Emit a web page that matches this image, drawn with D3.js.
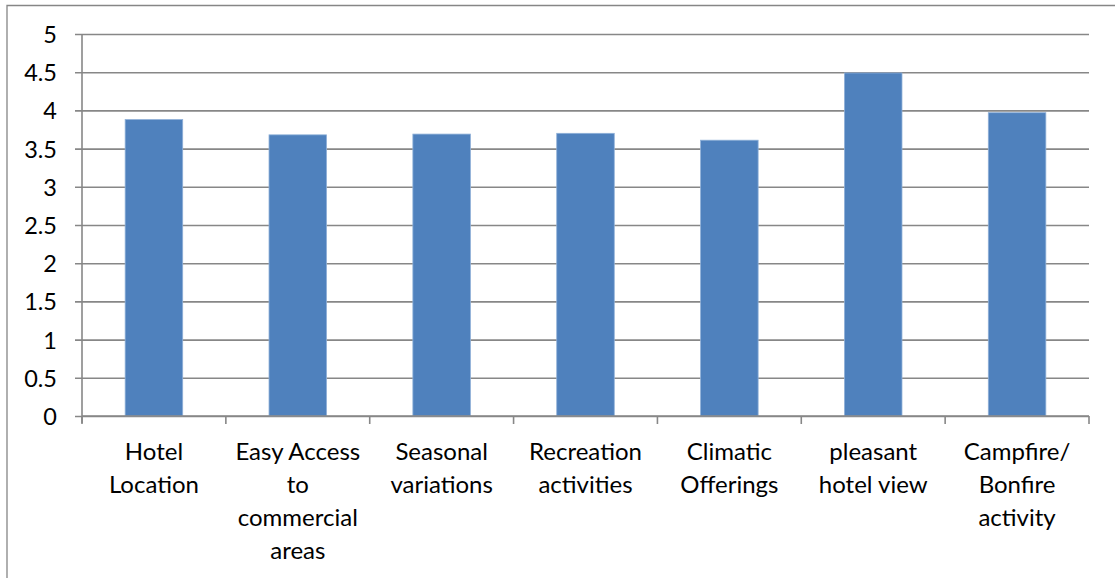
<!DOCTYPE html>
<html>
<head>
<meta charset="utf-8">
<script src="https://cdn.jsdelivr.net/npm/d3@7"></script>
<style>
  html, body { margin: 0; padding: 0; background: #fff; }
  svg { display: block; }
  text { font-family: Lato, "Open Sans", sans-serif; fill: #000; }
</style>
</head>
<body>
<svg id="chart" width="1115" height="578"></svg>
<script>
// Mean ratings per attribute
const categories = [
  "Hotel\nLocation",
  "Easy Access\nto\ncommercial\nareas",
  "Seasonal\nvariations",
  "Recreation\nactivities",
  "Climatic\nOfferings",
  "pleasant\nhotel view",
  "Campfire/\nBonfire\nactivity"
];
const values = [3.88, 3.68, 3.69, 3.70, 3.61, 4.49, 3.97];
const yTicks = [0, 0.5, 1, 1.5, 2, 2.5, 3, 3.5, 4, 4.5, 5];

const svg = d3.select("#chart");
const margin = { left: 82, right: 1089, top: 34, bottom: 416 };

// Outer frame
svg.append("path")
  .attr("d", "M7,590 V5.5 H1120")
  .attr("fill", "none")
  .attr("stroke", "#868686")
  .attr("stroke-width", 1.3);

const x = d3.scaleBand()
  .domain(categories)
  .range([margin.left, margin.right])
  .paddingInner(0.6)
  .paddingOuter(0.3);

const y = d3.scaleLinear()
  .domain([0, 5])
  .range([margin.bottom, margin.top]);

// Horizontal gridlines with outward tick marks
const yAxis = svg.append("g")
  .attr("transform", `translate(${margin.left},0)`)
  .call(d3.axisLeft(y)
    .tickValues(yTicks)
    .tickFormat(d => String(d))
    .tickSizeInner(-(margin.right - margin.left))
    .tickSizeOuter(0)
    .tickPadding(0));
yAxis.select(".domain").remove();
yAxis.selectAll(".tick line")
  .attr("x1", -7)
  .attr("stroke", "#878787")
  .attr("stroke-width", 1.6);
yAxis.selectAll(".tick text")
  .attr("x", -25)
  .attr("dy", "0.36em")
  .style("font-size", "23.5px")
  .attr("fill", "#000");

// Bars
svg.append("g")
  .selectAll("rect")
  .data(values)
  .join("rect")
  .attr("x", (d, i) => x(categories[i]))
  .attr("y", d => y(d))
  .attr("width", x.bandwidth())
  .attr("height", d => y(0) - y(d))
  .attr("fill", "#4F81BD")
  .attr("stroke", "#8fb0d8")
  .attr("stroke-width", 0.8);

// Vertical axis line
svg.append("line")
  .attr("x1", margin.left).attr("x2", margin.left)
  .attr("y1", margin.top).attr("y2", margin.bottom + 7)
  .attr("stroke", "#878787")
  .attr("stroke-width", 1.6);

// Category axis: baseline, boundary ticks, wrapped labels
const xg = svg.append("g");
xg.append("line")
  .attr("x1", margin.left).attr("x2", margin.right)
  .attr("y1", margin.bottom).attr("y2", margin.bottom)
  .attr("stroke", "#878787")
  .attr("stroke-width", 1.6);
const bounds = d3.range(categories.length + 1).map(i => margin.left + (margin.right - margin.left) * i / categories.length);
xg.selectAll(".bt")
  .data(bounds)
  .join("line")
  .attr("x1", d => d).attr("x2", d => d)
  .attr("y1", margin.bottom).attr("y2", margin.bottom + 8)
  .attr("stroke", "#878787")
  .attr("stroke-width", 1.6);

const labels = xg.selectAll(".lab")
  .data(categories)
  .join("text")
  .attr("text-anchor", "middle")
  .style("font-size", "24px")
  .attr("transform", d => `translate(${x(d) + x.bandwidth() / 2},460)`);
labels.each(function(d) {
  const t = d3.select(this);
  d.split("\n").forEach((line, j) => {
    t.append("tspan").attr("x", 0).attr("y", j * 33).text(line);
  });
});
</script>
</body>
</html>
